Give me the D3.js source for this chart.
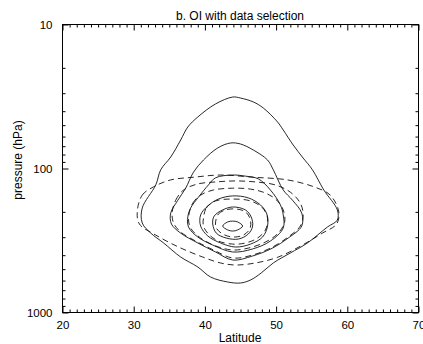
<!DOCTYPE html>
<html>
<head>
<meta charset="utf-8">
<script src="https://cdn.jsdelivr.net/npm/d3@7"></script>
<style>
  body { margin: 0; background: #fff; }
  svg { display: block; font-family: "Liberation Sans", Arial, sans-serif; }
</style>
</head>
<body>
<svg width="423" height="344"></svg>
<script>
var latTicks  = [20, 30, 40, 50, 60, 70];
var presTicks = [10, 100, 1000];

// contour lines, [latitude, pressure hPa]
var solid1 = [[43.9,31.9],[41.5,35.6],[39.0,43.9],[37.6,51.5],[36.6,63.4],[35.2,83.2],[33.8,102],[33.1,130],
  [31.2,188],[31.2,239],[32.4,281],[34.2,329],[36.6,412],[39.0,483],[40.8,567],[43.2,614],[45.0,624],[46.4,595],
  [47.9,532],[49.6,453],[52.0,386],[54.4,329],[57.2,255],[58.6,228],[58.6,194],[56.7,141],[55.1,102],[53.8,84.6],
  [52.4,68.7],[51.0,54.0],[50.2,47.5],[48.2,38.0],[46.8,34.5],[45.0,32.4]];
var solid2 = [[43.6,66.5],[41.8,72.0],[39.8,87.3],[38.4,106],[37.3,137],[36.2,166],[35.2,204],[35.3,243],
  [36.6,281],[39.0,329],[41.5,380],[43.9,432],[46.7,405],[49.5,357],[51.7,304],[53.6,251],[53.6,204],[52.3,166],
  [51.0,141],[49.6,102],[48.8,87.3],[46.8,74.4],[45.0,67.6]];
var solid3 = [[43.9,111],[41.5,116],[40.5,130],[39.1,158],[38.0,188],[37.6,217],[37.7,255],[39.0,299],[41.1,340],
  [43.9,380],[46.7,362],[49.2,319],[51.0,259],[51.0,210],[50.6,179],[49.2,141],[47.5,118],[45.7,113]];
var solid4 = [[43.9,155],[41.9,163],[40.4,182],[39.4,210],[39.4,251],[40.4,294],[42.2,329],[44.3,351],[46.4,335],
  [48.1,299],[48.8,251],[48.7,207],[47.8,179],[46.1,160]];
var solid5 = [[43.9,185],[42.5,194],[41.3,214],[41.1,243],[41.6,281],[43.0,304],[44.7,309],[46.1,285],[46.7,251],
  [46.5,217],[45.7,194]];
var solid6 = [[42.5,251],[43.2,235],[43.9,232],[44.6,235],[45.3,251],[44.6,267],[43.9,272],[43.2,267]];

var dashed1 = [[30.5,200],[31.2,153],[32.8,134],[35.2,120],[38.4,115],[42.2,111],[46.8,115],[51.6,120],[55.3,134],
  [57.6,153],[58.8,200],[58.5,243],[56.5,281],[53.7,340],[50.3,412],[47.1,453],[44.3,468],[42.2,453],[39.7,412],
  [36.3,351],[33.1,290],[30.8,243]];
var dashed2 = [[35.4,204],[35.9,166],[37.0,141],[39.0,128],[41.5,124],[44.3,122],[47.1,124],[49.9,130],[52.0,146],
  [53.4,174],[53.8,210],[53.4,251],[51.7,299],[49.5,351],[46.7,399],[43.9,418],[41.2,368],[38.7,319],[36.6,276],
  [35.6,239]];
var dashed3 = [[37.7,221],[38.3,174],[39.4,153],[41.2,141],[43.9,137],[46.4,139],[48.5,148],[50.1,166],[51.0,194],
  [51.2,235],[50.3,281],[48.5,324],[46.1,357],[43.9,368],[41.5,345],[39.4,304],[38.0,259]];
var dashed4 = [[39.8,221],[40.2,188],[41.5,168],[43.9,163],[46.4,168],[48.1,188],[48.8,221],[48.5,267],[47.4,304],
  [45.7,329],[43.9,335],[41.9,319],[40.5,285],[39.8,251]];
var dashed5 = [[41.5,235],[41.9,207],[42.9,194],[44.3,191],[45.7,200],[46.4,228],[46.3,263],[45.4,290],[43.9,299],
  [42.5,285],[41.6,259]];

var solidLines  = [solid1, solid2, solid3, solid4, solid5, solid6];
var dashedLines = [dashed1, dashed2, dashed3, dashed4, dashed5];

var svg = d3.select("svg");

var x = d3.scaleLinear().domain([20, 70]).range([62.5, 418.5]);
var y = d3.scaleLog().domain([10, 1000]).range([24.5, 312.5]);

var latMinor  = d3.range(20, 71).filter(function(d) { return d % 10 != 0; });
var presMinor = d3.range(20, 100, 10).concat(d3.range(200, 1000, 100));

var line = d3.line()
  .x(function(d) { return x(d[0]); })
  .y(function(d) { return y(d[1]); })
  .curve(d3.curveCatmullRomClosed.alpha(0.5));

svg.append("g").selectAll("path")
  .data(solidLines)
  .enter().append("path")
    .attr("d", line)
    .attr("fill", "none")
    .attr("stroke", "#111")
    .attr("stroke-width", 0.9);

svg.append("g").selectAll("path")
  .data(dashedLines)
  .enter().append("path")
    .attr("d", line)
    .attr("fill", "none")
    .attr("stroke", "#111")
    .attr("stroke-width", 0.9)
    .attr("stroke-dasharray", "6,4");

// axes, ticks point inward
function addAxis(axis, tx, ty, labels) {
  var g = svg.append("g")
    .attr("transform", "translate(" + tx + "," + ty + ")")
    .call(axis);
  g.select(".domain").remove();
  g.selectAll("line").attr("stroke", "#000");
  if (!labels) g.selectAll("text").remove();
  return g;
}

var xb = addAxis(d3.axisBottom(x).tickValues(latTicks).tickSize(-6).tickPadding(8).tickFormat(d3.format("d")), 0, 312.5, true);
addAxis(d3.axisBottom(x).tickValues(latMinor).tickSize(-3), 0, 312.5, false);
addAxis(d3.axisTop(x).tickValues(latTicks).tickSize(-6), 0, 24.5, false);
addAxis(d3.axisTop(x).tickValues(latMinor).tickSize(-3), 0, 24.5, false);

var yl = addAxis(d3.axisLeft(y).tickValues(presTicks).tickSize(-6).tickPadding(10).tickFormat(d3.format("d")), 62.5, 0, true);
addAxis(d3.axisLeft(y).tickValues(presMinor).tickSize(-3), 62.5, 0, false);
addAxis(d3.axisRight(y).tickValues(presTicks).tickSize(-6), 418.5, 0, false);
addAxis(d3.axisRight(y).tickValues(presMinor).tickSize(-3), 418.5, 0, false);

xb.selectAll("text").attr("font-size", 11.5).attr("font-family", null).attr("fill", "#000");
yl.selectAll("text").attr("font-size", 11.5).attr("font-family", null).attr("fill", "#000");

svg.append("rect")
  .attr("x", 62.5).attr("y", 24.5)
  .attr("width", 356).attr("height", 288)
  .attr("fill", "none")
  .attr("stroke", "#000");

svg.append("text")
  .attr("x", 240).attr("y", 20)
  .attr("text-anchor", "middle")
  .attr("font-size", 12)
  .text("b. OI with data selection");

svg.append("text")
  .attr("x", 240).attr("y", 342)
  .attr("text-anchor", "middle")
  .attr("font-size", 12)
  .text("Latitude");

svg.append("text")
  .attr("transform", "translate(21.5,160) rotate(-90)")
  .attr("text-anchor", "middle")
  .attr("font-size", 12)
  .text("pressure (hPa)");
</script>
</body>
</html>
